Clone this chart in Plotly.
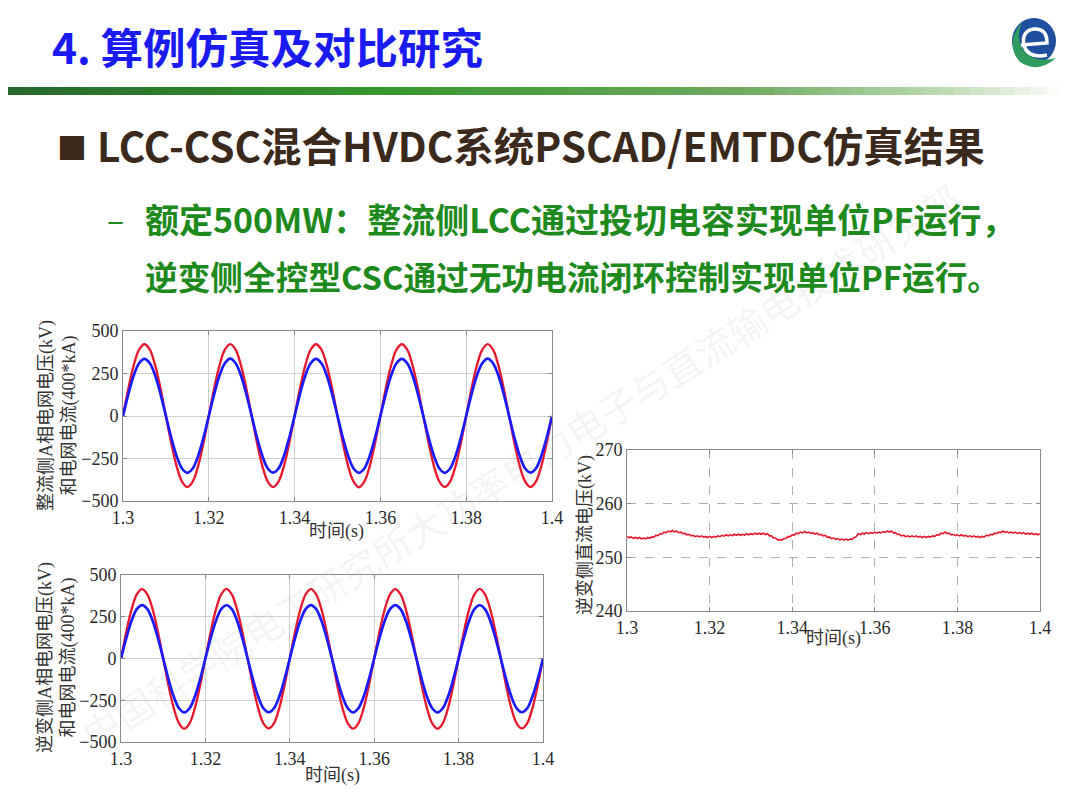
import plotly.graph_objects as go
import numpy as np

W, H = 1080, 809
OFF = 8  # page body margin, so reference pixel positions map 1:1

# ---------- data ----------
# AC waveforms, sampled every 1.25 ms from 1.30 s to 1.40 s (one row per 20 ms cycle)
t_ac = np.round(np.linspace(1.3, 1.4, 81), 5)

rect_voltage = [
    0, 162, 298, 390, 422, 390, 298, 162, 0, -160, -296, -386, -418, -386, -296, -160,
    0, 162, 298, 390, 423, 390, 298, 162, 0, -160, -296, -386, -418, -386, -296, -160,
    0, 162, 298, 390, 422, 390, 298, 162, 0, -160, -296, -386, -419, -386, -296, -160,
    0, 162, 298, 390, 422, 390, 298, 162, 0, -160, -296, -386, -418, -386, -296, -160,
    0, 162, 298, 390, 423, 390, 298, 162, 0, -160, -296, -386, -418, -386, -296, -160,
    0,
]
rect_current = [
    0, 129, 238, 310, 336, 310, 238, 129, 0, -128, -236, -309, -334, -309, -236, -128,
    0, 129, 238, 310, 337, 310, 238, 129, 0, -128, -236, -309, -333, -309, -236, -128,
    0, 129, 238, 310, 336, 310, 238, 129, 0, -128, -236, -309, -334, -309, -236, -128,
    0, 129, 238, 310, 336, 310, 238, 129, 0, -128, -236, -309, -334, -309, -236, -128,
    0, 129, 238, 310, 337, 310, 238, 129, 0, -128, -236, -309, -333, -309, -236, -128,
    0,
]
inv_voltage = [
    0, 159, 294, 384, 416, 384, 294, 159, 0, -161, -297, -388, -420, -388, -297, -161,
    0, 159, 294, 384, 417, 384, 294, 159, 0, -161, -297, -388, -419, -388, -297, -161,
    0, 159, 294, 384, 416, 384, 294, 159, 0, -161, -297, -388, -420, -388, -297, -161,
    0, 159, 294, 384, 416, 384, 294, 159, 0, -161, -297, -388, -420, -388, -297, -161,
    0, 159, 294, 384, 417, 384, 294, 159, 0, -161, -297, -388, -419, -388, -297, -161,
    0,
]
inv_current = [
    0, 122, 226, 296, 320, 296, 226, 122, 0, -124, -228, -298, -323, -298, -228, -124,
    0, 122, 226, 296, 319, 296, 226, 122, 0, -124, -228, -298, -322, -298, -228, -124,
    0, 122, 226, 296, 320, 296, 226, 122, 0, -124, -228, -298, -323, -298, -228, -124,
    0, 122, 226, 296, 320, 296, 226, 122, 0, -124, -228, -298, -323, -298, -228, -124,
    0, 122, 226, 296, 319, 296, 226, 122, 0, -124, -228, -298, -322, -298, -228, -124,
    0,
]

# inverter DC voltage, sampled every 0.5 ms
t_dc = np.round(np.linspace(1.3, 1.4, 201), 5)
dc_voltage = [
    253.9, 253.65, 253.8, 253.55, 253.7, 253.5, 253.7, 253.45, 253.6, 253.45,
    253.7, 253.55, 253.8, 253.75, 254.1, 254.05, 254.4, 254.35, 254.7, 254.6,
    254.9, 254.75, 255.0, 254.75, 254.9, 254.6, 254.7, 254.4, 254.5, 254.2,
    254.3, 254.0, 254.1, 253.85, 254.0, 253.8, 254.0, 253.75, 253.9, 253.7,
    253.9, 253.7, 253.9, 253.75, 254.0, 253.85, 254.1, 253.95, 254.2, 254.0,
    254.2, 254.05, 254.3, 254.1, 254.3, 254.1, 254.3, 254.15, 254.4, 254.2,
    254.4, 254.25, 254.5, 254.3, 254.5, 254.3, 254.5, 254.25, 254.4, 254.0,
    254.0, 253.6, 253.6, 253.25, 253.3, 253.2, 253.5, 253.5, 253.9, 253.85,
    254.2, 254.15, 254.5, 254.4, 254.7, 254.55, 254.8, 254.55, 254.7, 254.45,
    254.6, 254.35, 254.5, 254.2, 254.3, 254.0, 254.1, 253.75, 253.8, 253.5,
    253.6, 253.35, 253.5, 253.25, 253.4, 253.2, 253.4, 253.2, 253.4, 253.35,
    253.7, 253.85, 254.4, 254.25, 254.5, 254.35, 254.6, 254.4, 254.6, 254.45,
    254.7, 254.5, 254.7, 254.55, 254.8, 254.65, 254.9, 254.7, 254.9, 254.55,
    254.6, 254.25, 254.3, 254.0, 254.1, 253.85, 254.0, 253.8, 254.0, 253.8,
    254.0, 253.75, 253.9, 253.7, 253.9, 253.7, 253.9, 253.75, 254.0, 253.9,
    254.2, 254.15, 254.5, 254.4, 254.7, 254.4, 254.5, 254.2, 254.3, 254.05,
    254.2, 254.0, 254.2, 253.95, 254.1, 253.85, 254.0, 253.8, 254.0, 253.75,
    253.9, 253.7, 253.9, 253.8, 254.1, 254.0, 254.3, 254.2, 254.5, 254.4,
    254.7, 254.6, 254.9, 254.65, 254.8, 254.55, 254.7, 254.5, 254.7, 254.45,
    254.6, 254.4, 254.6, 254.35, 254.5, 254.3, 254.5, 254.25, 254.4, 254.2,
    254.4,
]

x_ticks = [1.3, 1.32, 1.34, 1.36, 1.38, 1.4]
x_tick_text = ["1.3", "1.32", "1.34", "1.36", "1.38", "1.4"]
ac_ticks = [-500, -250, 0, 250, 500]
dc_ticks = [240, 250, 260, 270]

title_text = "4. 算例仿真及对比研究"
bullet_text = "LCC-CSC混合HVDC系统PSCAD/EMTDC仿真结果"
sub_line1 = "额定500MW：整流侧LCC通过投切电容实现单位PF运行，"
sub_line2 = "逆变侧全控型CSC通过无功电流闭环控制实现单位PF运行。"
ylab1 = "整流侧A相电网电压(kV)<br>和电网电流(400*kA)"
ylab2 = "逆变侧A相电网电压(kV)<br>和电网电流(400*kA)"
ylab3 = "逆变侧直流电压(kV)"
xlab = "时间(s)"

RED = "#e8182c"
BLUE = "#1a1aff"
SERIF = "Liberation Serif, Noto Sans CJK SC"
CJK = "Noto Sans CJK SC"


def dom_x(a, b):
    return [(a - OFF) / W, (b - OFF) / W]


def dom_y(top, bottom):
    return [1 - (bottom - OFF) / H, 1 - (top - OFF) / H]


fig = go.Figure()

# plot 1 - rectifier side
fig.add_trace(go.Scatter(x=t_ac, y=rect_voltage, mode="lines", line=dict(color=RED, width=2.3, shape="spline"),
                         xaxis="x", yaxis="y", showlegend=False))
fig.add_trace(go.Scatter(x=t_ac, y=rect_current, mode="lines", line=dict(color=BLUE, width=2.7, shape="spline"),
                         xaxis="x", yaxis="y", showlegend=False))
# plot 2 - inverter side
fig.add_trace(go.Scatter(x=t_ac, y=inv_voltage, mode="lines", line=dict(color=RED, width=2.3, shape="spline"),
                         xaxis="x2", yaxis="y2", showlegend=False))
fig.add_trace(go.Scatter(x=t_ac, y=inv_current, mode="lines", line=dict(color=BLUE, width=2.7, shape="spline"),
                         xaxis="x2", yaxis="y2", showlegend=False))
# plot 3 - dc voltage
fig.add_trace(go.Scatter(x=t_dc, y=dc_voltage, mode="lines", line=dict(color=RED, width=1.6),
                         xaxis="x3", yaxis="y3", showlegend=False))


def axis_style(grid_dash="solid", grid_color="#cfcfcf"):
    return dict(showline=True, linecolor="#8a8a8a", linewidth=1, mirror="ticks",
                ticks="inside", ticklen=4, tickcolor="#8a8a8a", automargin=False,
                showgrid=True, gridcolor=grid_color, griddash=grid_dash, gridwidth=1,
                zeroline=False, tickfont=dict(family=SERIF, size=18, color="#2a2a2a"))


fig.update_layout(
    width=W, height=H,
    margin=dict(l=0, r=0, t=0, b=0, pad=0, autoexpand=False),
    paper_bgcolor="white", plot_bgcolor="rgba(0,0,0,0)",
    xaxis=dict(domain=dom_x(123, 552), range=[1.3, 1.4], tickvals=x_ticks, ticktext=x_tick_text,
               anchor="y", **axis_style()),
    yaxis=dict(domain=dom_y(331, 501), range=[-500, 500], tickvals=ac_ticks, anchor="x", **axis_style()),
    xaxis2=dict(domain=dom_x(121, 543), range=[1.3, 1.4], tickvals=x_ticks, ticktext=x_tick_text,
                anchor="y2", **axis_style()),
    yaxis2=dict(domain=dom_y(575, 742), range=[-500, 500], tickvals=ac_ticks, anchor="x2", **axis_style()),
    xaxis3=dict(domain=dom_x(627, 1040), range=[1.3, 1.4], tickvals=x_ticks, ticktext=x_tick_text,
                anchor="y3", **axis_style("dash", "#b0b0b0")),
    yaxis3=dict(domain=dom_y(450, 611), range=[240, 270], tickvals=dc_ticks, anchor="x3",
                **axis_style("dash", "#b0b0b0")),
    # overlay in reference-pixel units for slide decoration
    xaxis4=dict(domain=[0, 1], range=[OFF, W + OFF], visible=False, anchor="y4", fixedrange=True, automargin=False),
    yaxis4=dict(domain=[0, 1], range=[H + OFF, OFF], visible=False, anchor="x4", fixedrange=True, automargin=False),
)

# green gradient bar under the title
stops = [(0.0, (40, 105, 45)), (0.35, (55, 150, 45)), (0.7, (110, 170, 95)), (0.9, (190, 220, 180)), (1.0, (250, 252, 248))]


def grad_color(f):
    for (f0, c0), (f1, c1) in zip(stops[:-1], stops[1:]):
        if f0 <= f <= f1:
            k = (f - f0) / (f1 - f0)
            return "rgb(%d,%d,%d)" % tuple(round(a + (b - a) * k) for a, b in zip(c0, c1))
    return "rgb(250,252,248)"


n_seg = 70
bar_end = 1060
for i in range(n_seg):
    x0 = OFF + (bar_end - OFF) * i / n_seg - 0.3
    x1 = OFF + (bar_end - OFF) * (i + 1) / n_seg + 0.6
    fig.add_shape(type="rect", xref="x4", yref="y4", x0=x0, x1=x1, y0=87, y1=95,
                  fillcolor=grad_color(i / (n_seg - 1)), line_width=0, layer="below")

# logo (simplified)
fig.add_shape(type="circle", xref="x4", yref="y4", x0=1012, x1=1056, y0=18, y1=64,
              fillcolor="#1f4f9e", line_width=0)
fig.add_shape(type="path", xref="x4", yref="y4",
              path="M 1022 22 Q 1004 44 1020 62 Q 1038 74 1056 58 Q 1032 64 1022 48 Q 1016 36 1022 22 Z",
              fillcolor="#2f9b5c", line_width=0)
fig.add_shape(type="path", xref="x4", yref="y4",
              path="M 1021 45 L 1047 43 Q 1047 28 1034 29 Q 1021 31 1024 46 Q 1029 59 1047 55",
              line=dict(color="white", width=3.5))

# watermark
fig.add_annotation(xref="x4", yref="y4", x=520, y=465, text="中国科学院电工研究所大功率电力电子与直流输电技术研究部",
                   showarrow=False, textangle=-32, font=dict(family=CJK, size=38, color="rgba(140,140,140,0.10)"))

# slide texts
fig.add_annotation(xref="x4", yref="y4", x=50, y=45, text="<b>" + title_text + "</b>", xanchor="left",
                   showarrow=False, font=dict(family=CJK, size=42.5, color="#1a1af2"))
fig.add_annotation(xref="x4", yref="y4", x=55, y=146, text="■", xanchor="left",
                   showarrow=False, font=dict(family=CJK, size=30, color="#3b2a1c"))
fig.add_annotation(xref="x4", yref="y4", x=95, y=144, text="<b>" + bullet_text + "</b>", xanchor="left",
                   showarrow=False, font=dict(family=CJK, size=40.5, color="#3b2a1c"))
fig.add_annotation(xref="x4", yref="y4", x=105, y=218, text="–", xanchor="left",
                   showarrow=False, font=dict(family=CJK, size=32, color="#1e8a1e"))
fig.add_annotation(xref="x4", yref="y4", x=143, y=218, text="<b>" + sub_line1 + "</b>", xanchor="left",
                   showarrow=False, font=dict(family=CJK, size=34, color="#1e8a1e"))
fig.add_annotation(xref="x4", yref="y4", x=143, y=275, text="<b>" + sub_line2 + "</b>", xanchor="left",
                   showarrow=False, font=dict(family=CJK, size=32.7, color="#1e8a1e"))

# axis titles
lab_font = dict(family=SERIF, size=18, color="#333333")
fig.add_annotation(xref="x4", yref="y4", x=58, y=416, text=ylab1, textangle=-90, showarrow=False, font=lab_font)
fig.add_annotation(xref="x4", yref="y4", x=57, y=658, text=ylab2, textangle=-90, showarrow=False, font=lab_font)
fig.add_annotation(xref="x4", yref="y4", x=585, y=535, text=ylab3, textangle=-90, showarrow=False, font=lab_font)
fig.add_annotation(xref="x4", yref="y4", x=336, y=531, text=xlab, showarrow=False, font=lab_font)
fig.add_annotation(xref="x4", yref="y4", x=332, y=775, text=xlab, showarrow=False, font=lab_font)
fig.add_annotation(xref="x4", yref="y4", x=833, y=638, text=xlab, showarrow=False, font=lab_font)

fig.write_html("out.html")
